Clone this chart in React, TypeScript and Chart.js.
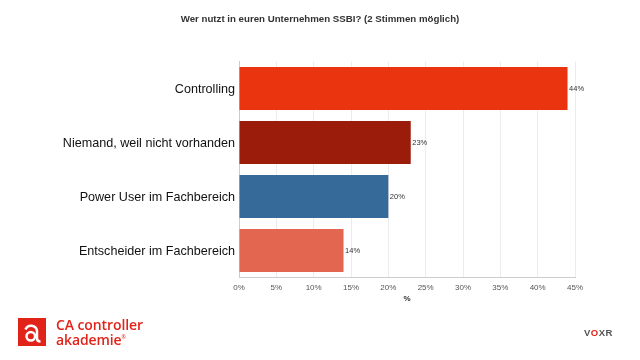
import React, { useEffect, useRef } from "react";
import { Chart, registerables } from "chart.js";

Chart.register(...registerables);

const categories = [
  "Controlling",
  "Niemand, weil nicht vorhanden",
  "Power User im Fachbereich",
  "Entscheider im Fachbereich",
];
const values = [44, 23, 20, 14];
const barColors = ["#EA330F", "#9B1C0A", "#356A99", "#E36650"];
const titleText = "Wer nutzt in euren Unternehmen SSBI? (2 Stimmen möglich)";
const xAxisTitle = "%";

const FONT = "'Liberation Sans', Arial, sans-serif";

const valueLabels = {
  id: "valueLabels",
  afterDatasetsDraw(chart: any) {
    const ctx = chart.ctx;
    const meta = chart.getDatasetMeta(0);
    ctx.save();
    ctx.font = "7.5px " + FONT;
    ctx.fillStyle = "#333";
    ctx.textAlign = "left";
    ctx.textBaseline = "middle";
    meta.data.forEach((bar: any, i: number) => {
      ctx.fillText(values[i] + "%", bar.x + 1.5, bar.y);
    });
    ctx.restore();
  },
};

const centeredTitle = {
  id: "centeredTitle",
  afterDraw(chart: any) {
    const ctx = chart.ctx;
    ctx.save();
    ctx.font = "bold 9.7px " + FONT;
    ctx.fillStyle = "#333";
    ctx.textAlign = "center";
    ctx.textBaseline = "middle";
    ctx.fillText(titleText, chart.width / 2, 19);
    ctx.restore();
  },
};

export default function App() {
  const ref = useRef<HTMLCanvasElement>(null);
  useEffect(() => {
    if (!ref.current) return;
    const chart = new Chart(ref.current, {
      type: "bar",
      data: {
        labels: categories,
        datasets: [
          {
            data: values,
            backgroundColor: barColors,
            borderWidth: 0,
            barPercentage: 0.8,
            categoryPercentage: 1,
          },
        ],
      },
      options: {
        indexAxis: "y",
        responsive: false,
        animation: false,
        layout: { padding: { left: 0, right: 65, top: 61.5, bottom: 52.5 } },
        plugins: {
          legend: { display: false },
          tooltip: { enabled: false },
          title: { display: false },
        },
        scales: {
          x: {
            min: 0,
            max: 45,
            ticks: {
              stepSize: 5,
              color: "#555",
              font: { family: FONT, size: 8 },
              callback: (v: any) => v + "%",
              padding: 5,
            },
            grid: { color: "#ececec", drawTicks: false },
            border: { color: "#ccc" },
            title: {
              display: true,
              text: xAxisTitle,
              color: "#333",
              font: { family: FONT, size: 8, weight: "bold" },
              padding: { top: 2, bottom: 3.5 },
            },
            afterFit: (s: any) => {
              s.height = 30;
            },
          },
          y: {
            ticks: {
              color: "#111",
              font: { family: FONT, size: 12.6 },
              padding: 4,
              labelOffset: 1.5,
            },
            grid: { display: false, drawTicks: false },
            border: { color: "#ccc" },
            afterFit: (s: any) => {
              s.width = 239;
            },
          },
        },
      },
      plugins: [valueLabels, centeredTitle],
    });
    return () => chart.destroy();
  }, []);

  return (
    <div style={{ position: "absolute", left: 0, top: 0, width: 640, height: 360, background: "#fff", overflow: "hidden" }}>
      <canvas ref={ref} width={640} height={360} style={{ position: "absolute", left: 0, top: 0 }} />
      <svg width={28} height={28} style={{ position: "absolute", left: 18, top: 318 }}>
        <rect x={0} y={0} width={28} height={28} fill="#E2231A" />
        <path d="M7.5 11.5 A6 6 0 0 1 19 13 L19 20.5 Q19 23.5 22.5 23.5" fill="none" stroke="#fff" strokeWidth={2.5} />
        <circle cx={12.8} cy={18.3} r={4.3} fill="none" stroke="#fff" strokeWidth={2.5} />
      </svg>
      <div
        style={{
          position: "absolute",
          left: 56,
          top: 318,
          color: "#E2231A",
          fontFamily: "'Open Sans', sans-serif",
          fontWeight: 600,
          fontSize: 14,
          lineHeight: "13px",
          letterSpacing: -0.1,
        }}
      >
        <div>CA controller</div>
        <div>
          akademie<sup style={{ fontSize: 5 }}>®</sup>
        </div>
      </div>
      <div
        style={{
          position: "absolute",
          left: 584,
          top: 327,
          fontFamily: FONT,
          fontWeight: 700,
          fontSize: 9.5,
          color: "#555",
          letterSpacing: 0.5,
        }}
      >
        V<span style={{ color: "#E2231A" }}>O</span>XR
      </div>
    </div>
  );
}
